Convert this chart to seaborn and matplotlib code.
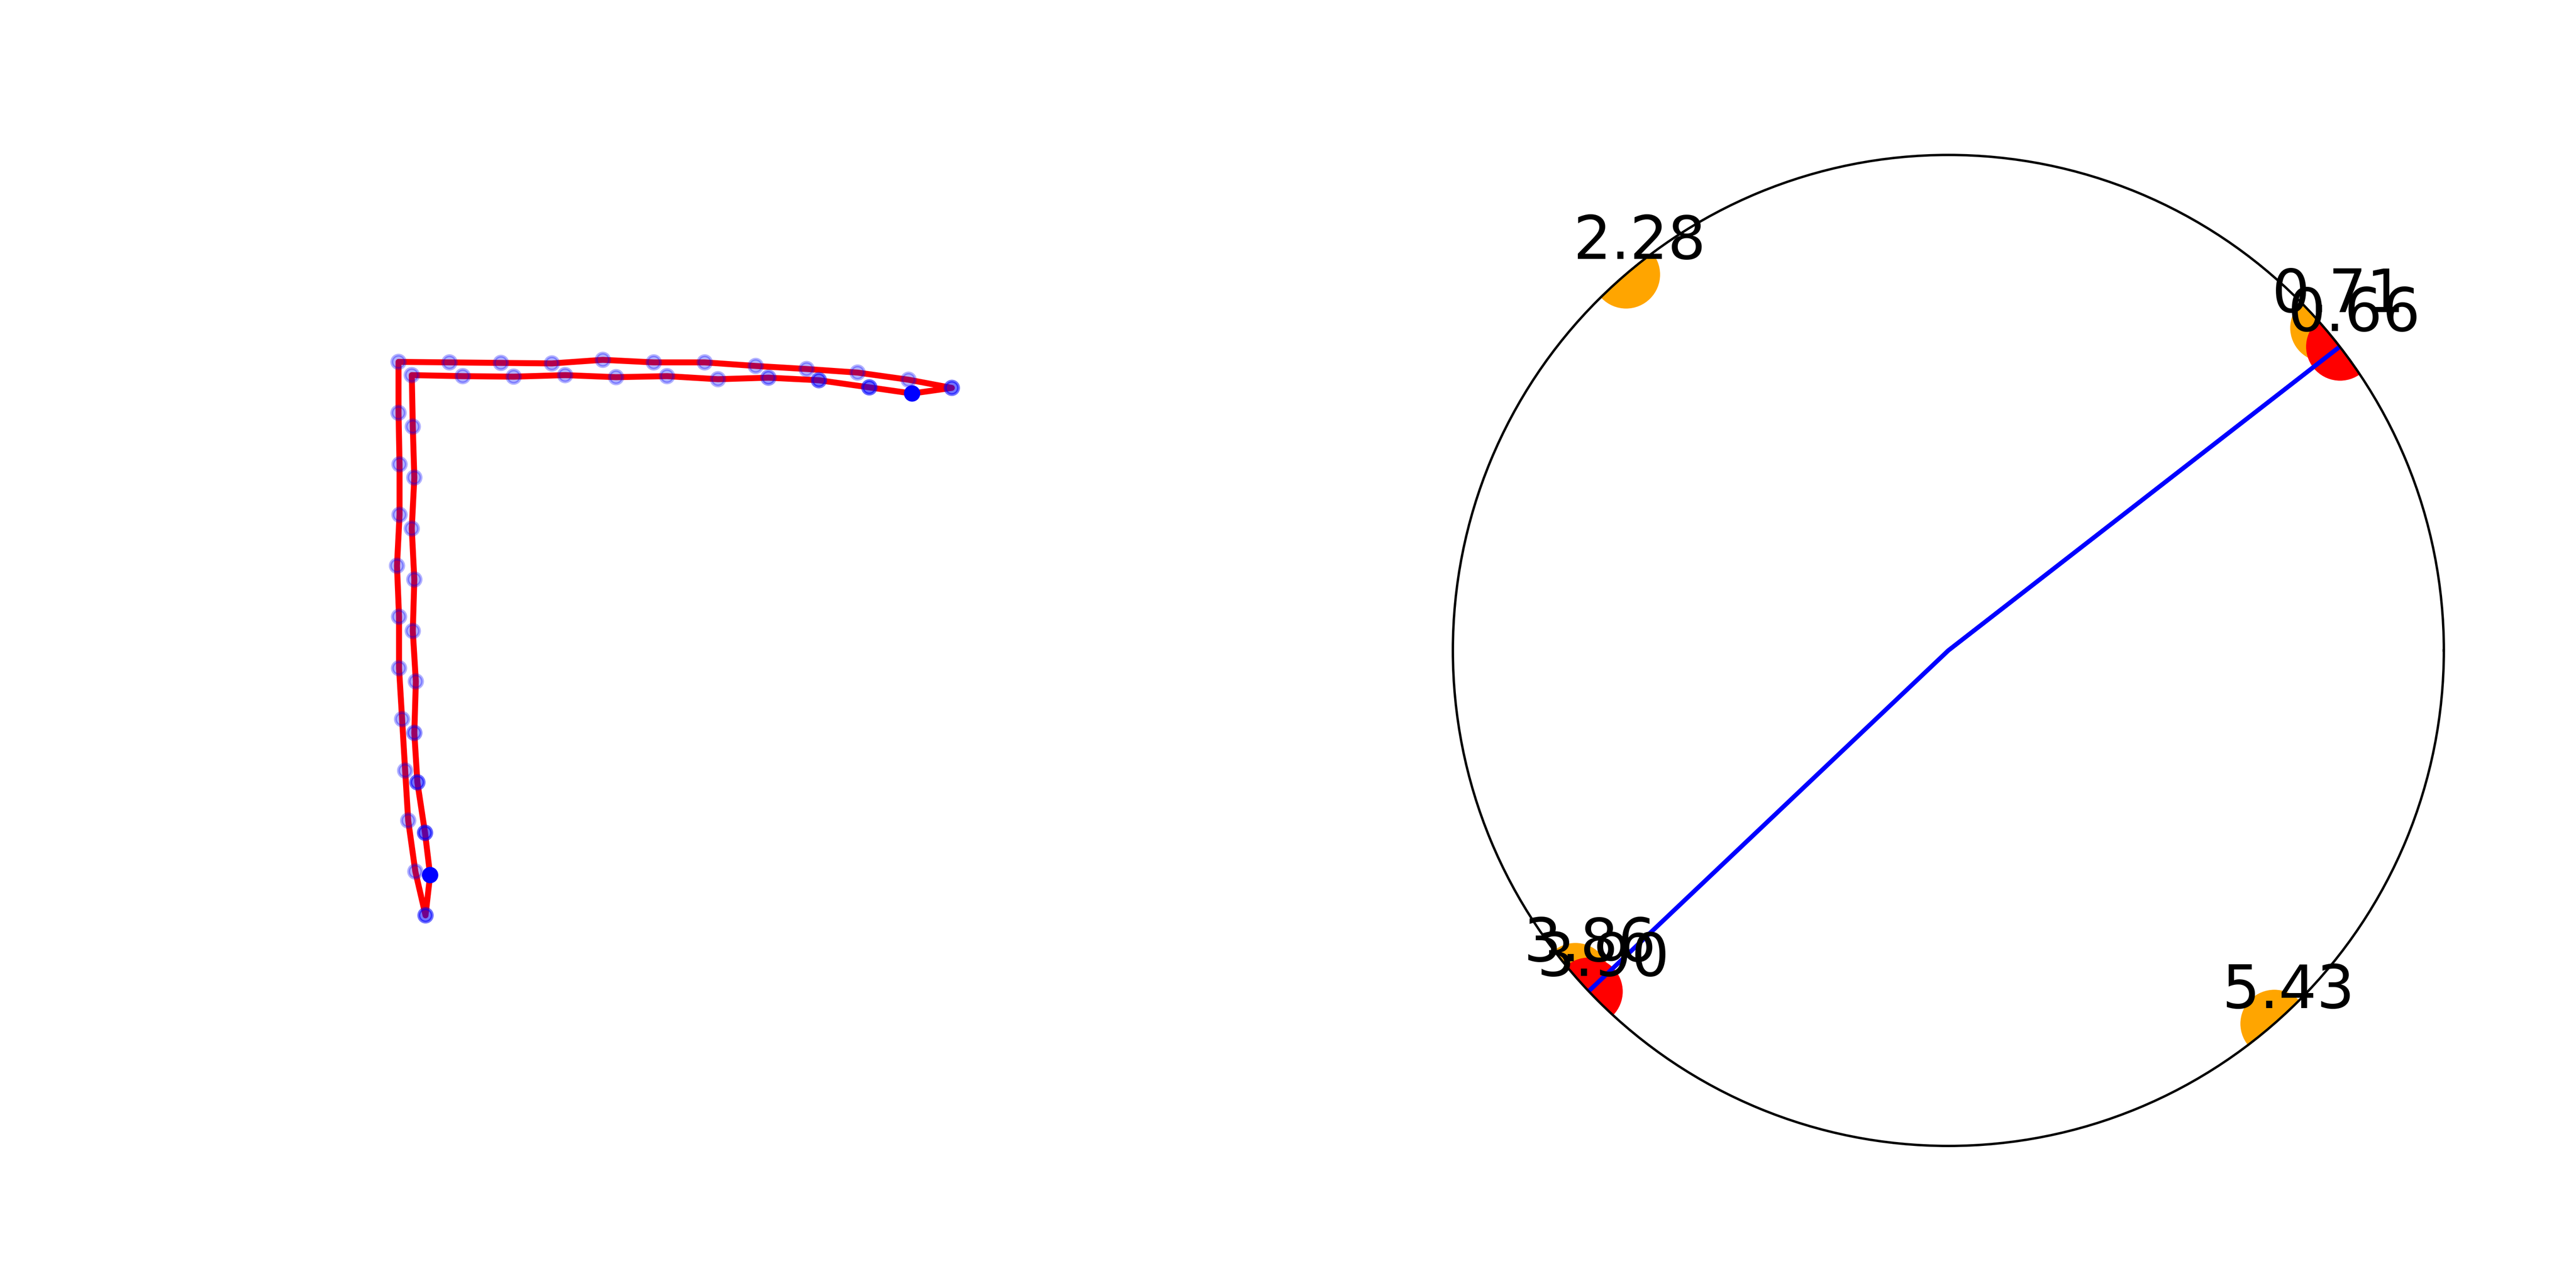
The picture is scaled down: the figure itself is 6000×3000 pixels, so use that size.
import matplotlib
matplotlib.use("Agg")
import matplotlib.pyplot as plt
import seaborn as sns

# Stroke points, in drawing order (inner arm up, inner top, outer top back, outer arm down)
path_x = [0.62, 0.52, 0.37, 0.31, 0.34, 0.28, 0.31, 0.26, 0.31, 0.28, 0.26,
          1.26, 2.26, 3.27, 4.27, 5.27, 6.27, 7.26, 8.25, 9.24, 10.08,
          10.86, 10.01, 9.01, 8.01, 7.01, 6.01, 5.01, 4.01, 3.01, 2.01, 1.00, 0.00,
          0.00, 0.02, 0.02, -0.03, 0.01, 0.01, 0.07, 0.13, 0.19, 0.33, 0.53]
path_y = [0.79, 1.62, 2.61, 3.58, 4.59, 5.58, 6.59, 7.59, 8.59, 9.59, 10.60,
          10.58, 10.57, 10.60, 10.56, 10.58, 10.52, 10.55, 10.50, 10.36, 10.24,
          10.35, 10.51, 10.65, 10.72, 10.78, 10.85, 10.85, 10.90, 10.83, 10.84, 10.85, 10.86,
          9.86, 8.85, 7.86, 6.86, 5.86, 4.85, 3.85, 2.84, 1.86, 0.86, 0.00]
path_alpha = [1.0, 0.6, 0.55, 0.4, 0.3, 0.3, 0.3, 0.3, 0.3, 0.3, 0.3,
              0.3, 0.3, 0.3, 0.3, 0.3, 0.3, 0.4, 0.55, 0.6, 1.0,
              0.55, 0.3, 0.3, 0.3, 0.3, 0.3, 0.3, 0.3, 0.3, 0.3, 0.3, 0.3,
              0.3, 0.3, 0.3, 0.3, 0.3, 0.3, 0.3, 0.3, 0.3, 0.3, 0.55]

# Angles on the unit circle
orange_theta = [0.71, 2.28, 3.86, 5.43]
red_theta = [0.66, 3.90]

fig = plt.figure(figsize=(12, 6))

# Left: the stroke
ax = fig.add_axes([0.125, 0.11, 0.3523, 0.77])
sns.lineplot(x=path_x + path_x[:1], y=path_y + path_y[:1], sort=False, estimator=None,
             color='red', linewidth=2, ax=ax)
sns.scatterplot(x=path_x, y=path_y, color='blue', edgecolor='blue', alpha=path_alpha,
                s=20, linewidth=1, zorder=3, ax=ax)
ax.set_xlim(-1.502, 16.31)
ax.set_ylim(-4.532, 14.928)
ax.axis('off')

# Right: angles on the circle
pax = fig.add_axes([0.5640, 0.11, 0.3847, 0.77], projection='polar')
sns.scatterplot(x=orange_theta, y=[1] * len(orange_theta), color='orange', s=520,
                linewidth=0, ax=pax)
sns.scatterplot(x=red_theta, y=[1] * len(red_theta), color='red', s=520,
                linewidth=0, ax=pax)
sns.lineplot(x=[red_theta[0], red_theta[0], red_theta[1], red_theta[1]], y=[1, 0, 0, 1],
             sort=False, estimator=None, color='blue', linewidth=1.5, ax=pax)

for t in orange_theta + red_theta:
    pax.annotate(f'{t:.2f}', xy=(t, 1), xytext=(4.8, 5.2), textcoords='offset points',
                 ha='center', va='baseline', fontsize=20, annotation_clip=False)

pax.set_ylim(0, 1)
pax.grid(False)
pax.set_xticks([])
pax.set_yticks([])
pax.set_xlabel('')
pax.set_ylabel('')

fig.savefig('out.png', dpi=500)
